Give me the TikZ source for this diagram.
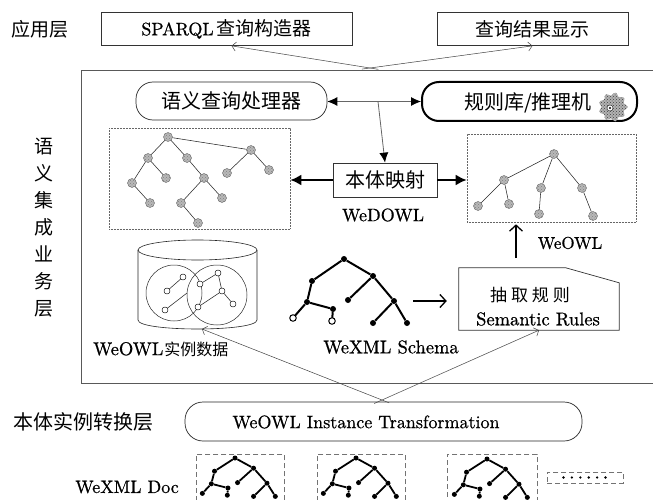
\documentclass[tikz,border=0pt]{standalone}
\usepackage{fontspec}
\setmainfont{lmroman10-regular.otf}[FakeBold=0.7]
\newfontfamily\cjk{Noto Sans CJK SC}
\usetikzlibrary{arrows.meta,patterns,calc}
\newcommand{\mktree}[7]{% prefix, x, y, xs, ys, node style, edge width
 \begin{scope}[shift={(#2,#3)}]
  \foreach \n/\a/\b in {1/0/0,2/-32/22,3/29/17,4/-37/43,5/4/41,6/50/42,7/-11/50,8/-51/59,9/-12/62,10/29/64,11/63/64}
    \node[#6] (#1\n) at ({\a*#4},{\b*#5}) {};
  \foreach \p/\c in {1/2,1/3,2/4,3/5,3/6,4/7,4/8,7/9,6/10,6/11}
    \draw[line width=#7] (#1\p) -- (#1\c);
 \end{scope}}
\begin{document}
\begin{tikzpicture}[x=1pt,y=-1pt,
  frame/.style={draw=black!80,line width=0.7pt,inner sep=0pt},
  pill/.style={draw=black!85,line width=0.7pt,rounded corners=17pt,inner sep=0pt},
  dotbox/.style={draw=black!60,line width=0.6pt,dash pattern=on 0.6pt off 0.9pt,inner sep=0pt},
  dbox/.style={draw=black!55,line width=0.8pt,dash pattern=on 5pt off 3pt,inner sep=0pt},
  tn/.style={circle,draw=black!60,line width=0.4pt,fill=black!28,minimum size=9pt,inner sep=0pt,postaction={pattern=crosshatch dots,pattern color=black!50}},
  tl/.style={line width=0.55pt,draw=black!85},
  wn/.style={circle,draw=black,line width=0.45pt,fill=white,minimum size=6pt,inner sep=0pt},
  bn/.style={circle,fill=black,minimum size=6pt,inner sep=0pt},
  sbn/.style={circle,fill=black,minimum size=5pt,inner sep=0pt},
  on/.style={circle,draw=black,line width=1pt,fill=white,minimum size=6.5pt,inner sep=0pt},
  fa/.style={draw=black!60,line width=0.8pt,-{Latex[length=10pt,width=9pt,color=black]}},
  tha/.style={draw=black,line width=2pt,-{Latex[length=11pt,width=11pt]}},
  xl/.style={draw=black!75,line width=0.5pt,-{Straight Barb[length=4pt,width=9pt]}},
  barb/.style={draw=black,line width=1.3pt,-{Straight Barb[length=6pt,width=13pt]}},
  zh/.style={font=\cjk\fontsize{#1}{#1}\selectfont},
  en/.style={font=\fontsize{#1}{#1}\selectfont}
]
\useasboundingbox (0,0) rectangle (653,500);
\clip (0,0) rectangle (653,500);

% ---------- application layer
\node[zh=19] (app) at (40,29) {应用层};
\node[frame,minimum width=251pt,minimum height=33pt,en=18] (sparql) at (226.5,29) {SPARQL\,{\cjk\fontsize{19}{19}\selectfont 查询构造器}};
\node[frame,minimum width=191pt,minimum height=33pt,zh=19] (res) at (532.5,29) {查询结果显示};

% ---------- semantic integration layer
\node[draw=black!65,line width=0.8pt,minimum width=574pt,minimum height=313pt,inner sep=0pt] (big) at (368,226.5) {};
\node[align=center,font=\cjk\fontsize{19}{27}\selectfont] (sjl) at (44,227.5) {语\\义\\集\\成\\业\\务\\层};

\coordinate (xt) at (370,68);
\coordinate (ta) at ($(sparql.south west)!0.52!(sparql.south east)$);
\draw[xl] ($(ta)!1.06!(xt)$) -- (ta);
\draw[xl] ($(res.south)!1.05!(xt)$) -- (res.south);

\node[pill,minimum width=191pt,minimum height=38pt,zh=20] (qp) at (231.5,101) {语义查询处理器};
\node[pill,line width=2pt,draw=black,minimum width=215pt,minimum height=39pt] (rb) at (529.5,101.5) {};
\node[zh=20] (rbt) at (528,103) {规则库/推理机};
% gear icon
\fill[black!30] plot[smooth cycle,samples=40,domain=0:351] ({613+(13+1.6*cos(9*\x))*cos(\x)},{107+(13+1.6*cos(9*\x))*sin(\x)});
\fill[pattern=crosshatch dots,pattern color=black!75] plot[smooth cycle,samples=40,domain=0:351] ({613+(13+1.6*cos(9*\x))*cos(\x)},{107+(13+1.6*cos(9*\x))*sin(\x)});
\draw[black!80,line width=0.5pt,fill=white] (610,108) circle[radius=3];
\fill[black] (610,108) circle[radius=1.2];

\coordinate (j) at (378,101.5);
\node[frame,minimum width=104pt,minimum height=34pt,zh=20] (map) at (385,180) {本体映射};
\draw[fa] (j) -- (qp.east |- j);
\draw[fa] (j) -- (rb.west |- j);
\draw[fa] (j) -- (map.north);

\node[dotbox,minimum width=181pt,minimum height=101pt] (ltb) at (199.5,178.5) {};
\node[dotbox,minimum width=169pt,minimum height=88pt] (rtb) at (551.5,178) {};
\draw[tha] (map.west) -- (ltb.east |- map.west);
\draw[tha] (map.east) -- (rtb.west |- map.east);
\node[en=18] (wedowl) at (383,215) {WeDOWL};

% left ontology tree
\foreach \n/\x/\y in {1/168/137,2/251/150,3/148/158,4/187/158,5/227/173,6/269/170,7/132/183,8/166/178,9/204/178,10/150/203,11/181/203,12/222/198,13/198/223}
  \node[tn] (l\n) at (\x,\y) {};
\foreach \a/\b in {1/2,1/3,1/4,2/5,2/6,3/7,3/8,4/9,7/10,9/11,9/12,11/13}
  \draw[tl] (l\a) -- (l\b);
% right ontology tree
\foreach \n/\x/\y in {1/554/154,2/504/180,3/541/188,4/582/188,5/478/206,6/509/204,7/539/214,8/593/216}
  \node[tn] (r\n) at (\x,\y) {};
\foreach \a/\b in {1/2,1/3,1/4,2/5,2/6,3/7,4/8}
  \draw[tl] (r\a) -- (r\b);

% WeOWL arrow
\coordinate (wa) at (516,258);
\draw[barb,shorten >=2pt] (wa) -- (wa |- rtb.south);
\node[en=17] (weowl) at (570,243) {WeOWL};

% rules note
\node[inner sep=0pt,minimum width=160pt,minimum height=62pt] (note) at (539,299) {};
\draw[frame] (note.north west) -- ($(note.north west)+(107,0)$) -- ($(note.north east)+(0,15)$) -- (note.south east) -- (note.south west) -- cycle;
\node[font=\cjk\fontsize{17}{17}\selectfont] (nt1) at (530,295) {抽\hspace{4pt}取\hspace{4pt}规\hspace{4pt}则};
\node[en=18.5] (nt2) at (538,319) {Semantic Rules};

% schema tree
\mktree{s}{344}{259}{1}{1}{bn}{2pt}
\node[on] at (s8) {};
\node[on] at (s9) {};
\node[en=18.5] (wexml) at (391,347) {WeXML Schema};
\coordinate (sa) at (413,301);
\draw[barb,shorten >=12pt] (sa) -- (note.west |- sa);

% database cylinder
\draw[black!85,line width=0.6pt] (138,250) -- (138,320) .. controls (138,332) and (257,332) .. (257,320) -- (257,250);
\draw[black!85,line width=0.6pt] (197.5,250) ellipse [x radius=59.5,y radius=10];
\draw[black!85,line width=0.5pt] (174,293) circle[radius=28];
\draw[black!85,line width=0.5pt] (217,295) circle[radius=30];
\foreach \n/\x/\y in {A/183/277,B/167/291,C/165/310,D/218/273,E/200/284,F/222/291,G/198/307,H/233/304}
  \node[wn] (c\n) at (\x,\y) {};
\coordinate (cK) at (187,293);
\draw[tl] (cA) -- (cB);
\draw[tl] (cC) -- (cK);
\draw[tl] (cD) -- (cE);
\draw[tl] (cD) -- (cF);
\draw[tl] (cF) -- (cG);
\draw[tl] (cF) -- (cH);
\node[anchor=west,inner sep=0pt] (dbl) at (93,349) {\fontsize{18.5}{18.5}\selectfont WeOWL\hspace{1pt}\cjk\fontsize{16}{18}\selectfont 实例数据};

% ---------- instance transformation layer
\node[zh=20] (itl) at (83,422) {本体实例转换层};
\node[pill,rounded corners=18pt,minimum width=397pt,minimum height=39pt] (tr) at (383.5,421.5) {};
\node[en=18] (trt) at (366,422) {WeOWL Instance Transformation};

\coordinate (xb) at (382,400);
\coordinate (cb) at (202,329);
\draw[xl] ($(cb)!1.04!(xb)$) -- (cb);
\draw[xl] ($(note.south)!1.05!(xb)$) -- (note.south);

% ---------- documents
\node[en=18] (doc) at (127,487) {WeXML Doc};
\node[dbox,minimum width=88pt,minimum height=70pt,anchor=north west] (d1) at (196,454) {};
\node[dbox,minimum width=88pt,minimum height=70pt,anchor=north west] (d2) at (317,454) {};
\node[dbox,minimum width=90pt,minimum height=70pt,anchor=north west] (d3) at (447,454) {};
\node[dbox,minimum width=76pt,minimum height=11pt,anchor=north west] (d4) at (547,472) {};
\foreach \i in {0,...,5} \fill (563.5+\i*8.4,477.5) circle[radius=1.3];
\mktree{a}{235}{458}{0.64}{0.6}{sbn}{1.8pt}
\mktree{b}{356}{458}{0.64}{0.6}{sbn}{1.8pt}
\mktree{c}{487}{459}{0.64}{0.6}{sbn}{1.8pt}
\end{tikzpicture}
\end{document}
